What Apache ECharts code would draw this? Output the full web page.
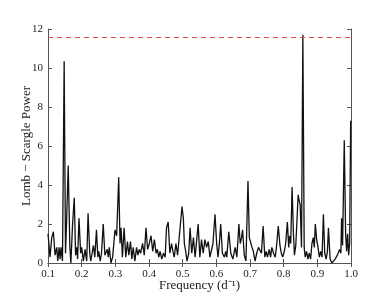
<!DOCTYPE html>
<html><head><meta charset="utf-8">
<script src="https://cdn.jsdelivr.net/npm/echarts@6/dist/echarts.min.js"></script>
<style>html,body{margin:0;padding:0;background:#fff}#c{width:390px;height:293px}</style>
</head><body><div id="c"></div>
<script>
var freq = [0.100,0.106,0.111,0.116,0.121,0.126,0.129,0.133,0.136,0.139,0.143,0.148,0.152,0.155,0.160,0.165,0.168,0.173,0.178,0.182,0.185,0.188,0.192,0.197,0.200,0.205,0.210,0.215,0.219,0.224,0.227,0.231,0.235,0.239,0.244,0.248,0.251,0.255,0.259,0.264,0.269,0.272,0.276,0.279,0.282,0.287,0.292,0.299,0.304,0.310,0.314,0.317,0.321,0.326,0.331,0.336,0.340,0.345,0.349,0.353,0.358,0.363,0.367,0.371,0.375,0.381,0.386,0.391,0.396,0.401,0.406,0.411,0.416,0.421,0.425,0.429,0.433,0.438,0.443,0.448,0.452,0.457,0.462,0.467,0.471,0.475,0.480,0.485,0.490,0.498,0.502,0.505,0.509,0.513,0.518,0.522,0.527,0.532,0.537,0.541,0.546,
0.551,0.556,0.561,0.566,0.571,0.576,0.581,0.586,0.590,0.596,0.601,0.605,0.609,0.613,0.618,0.624,0.628,0.631,0.637,0.643,0.649,0.656,0.661,0.667,0.671,0.675,0.678,0.683,0.688,0.694,0.698,0.702,0.706,0.710,0.715,0.720,0.725,0.730,0.734,0.739,0.744,0.748,0.752,0.757,0.761,0.765,0.770,0.775,0.779,0.784,0.789,0.793,0.797,0.802,0.806,0.811,0.815,0.818,0.821,0.825,0.829,0.832,0.836,0.839,0.843,0.846,0.849,0.853,0.857,0.861,0.864,0.868,0.872,0.876,0.880,0.884,0.888,0.891,0.894,0.898,0.902,0.906,0.910,0.914,0.918,0.922,0.926,0.930,0.933,0.938,0.943,0.948,0.953,0.958,0.962,0.966,0.970,0.972,0.975,0.980,0.984,0.987,0.990,0.993,0.996,0.999,1.000];
var power = [1.5,0.3,1.3,1.6,0.4,0.8,0.1,0.8,0.2,0.8,0.1,10.35,0.5,2.0,5.0,0.8,0.0,2.0,3.35,0.4,0.8,0.2,2.3,0.5,0.8,0.1,0.7,0.1,2.55,0.5,0.1,0.5,0.9,0.3,1.7,0.3,0.6,0.1,0.5,2.0,0.4,0.3,0.7,0.3,0.8,0.0,0.3,1.7,1.4,4.4,1.0,1.8,0.3,1.8,0.3,1.1,0.4,1.1,0.2,0.8,0.1,0.8,0.4,0.7,0.5,1.0,0.4,1.8,0.7,1.0,1.4,0.6,1.2,0.5,0.7,0.3,0.6,0.2,0.5,0.3,1.8,2.1,0.5,1.0,0.6,0.3,1.0,0.4,0.3,2.9,2.3,1.0,0.6,0.1,0.5,1.8,0.5,1.3,0.3,0.2,2.0,
0.3,1.2,0.5,1.2,0.8,1.1,0.3,0.2,1.0,2.5,1.0,0.3,1.0,2.0,0.5,0.3,0.6,0.3,1.6,0.5,0.2,0.8,0.3,2.0,1.0,1.3,1.7,0.4,0.1,4.2,1.3,1.4,0.8,0.6,0.1,0.5,0.8,0.9,0.5,1.9,0.3,0.6,0.3,0.7,0.3,0.8,0.5,0.3,0.9,1.9,0.9,0.5,0.3,0.6,1.0,2.1,0.8,1.4,1.0,3.9,1.5,0.4,0.9,2.0,3.5,3.2,3.0,0.8,11.7,0.8,0.3,0.6,0.2,0.5,0.2,1.0,1.3,0.8,2.0,1.2,0.8,0.3,0.6,0.3,2.5,0.5,0.2,0.6,1.8,0.2,0.0,0.1,0.2,0.2,0.5,0.7,0.5,2.3,0.9,6.3,1.5,0.6,1.5,0.4,1.0,7.3,7.3];
var threshold = 11.57;
var xTicks = [0.1,0.2,0.3,0.4,0.5,0.6,0.7,0.8,0.9,1.0];
var yTicks = [0,2,4,6,8,10,12];

var data = freq.map(function(f,i){return [f, power[i]];});
var font = 'Liberation Serif';
var axisCol = '#555';
var chart = echarts.init(document.getElementById('c'));
function xa(pos, show){
  return {type:'value', min:0.1, max:1.0, interval:0.1, position:pos,
    axisLine:{show:true, lineStyle:{color:axisCol, width:1}},
    axisTick:{show:true, inside:true, length:4, lineStyle:{color:axisCol}},
    axisLabel:{show:show, color:'#222', fontFamily:font, fontSize:11, margin:6,
      formatter:function(v){return v.toFixed(1);}},
    splitLine:{show:false},
    name: show ? 'Frequency (d\u207B\u00B9)' : '', nameLocation:'middle', nameGap:16,
    nameMoveOverlap:false,
    nameTextStyle:{fontFamily:font, fontSize:13, color:'#222'}};
}
function ya(pos, show){
  return {type:'value', min:0, max:12, interval:2, position:pos,
    axisLine:{show:true, lineStyle:{color:axisCol, width:1}},
    axisTick:{show:true, inside:true, length:4, lineStyle:{color:axisCol}},
    axisLabel:{show:show, color:'#222', fontFamily:font, fontSize:11, margin:5},
    splitLine:{show:false},
    name: show ? 'Lomb \u2212 Scargle Power' : '', nameLocation:'middle', nameGap:15,
    nameMoveOverlap:false,
    nameTextStyle:{fontFamily:font, fontSize:13, color:'#222'}};
}
chart.setOption({
  animation:false,
  grid:{left:48, right:39, top:29, bottom:30, outerBoundsMode:'none', containLabel:false},
  xAxis:[xa('bottom', true), xa('top', false)],
  yAxis:[ya('left', true), ya('right', false)],
  series:[{type:'line', data:data, showSymbol:false, symbol:'none',
    lineStyle:{color:'#111', width:1.3},
    markLine:{silent:true, symbol:'none', label:{show:false},
      lineStyle:{color:'#e04848', type:[5,4], width:1},
      data:[{yAxis:threshold}]}}]
});
</script></body></html>
